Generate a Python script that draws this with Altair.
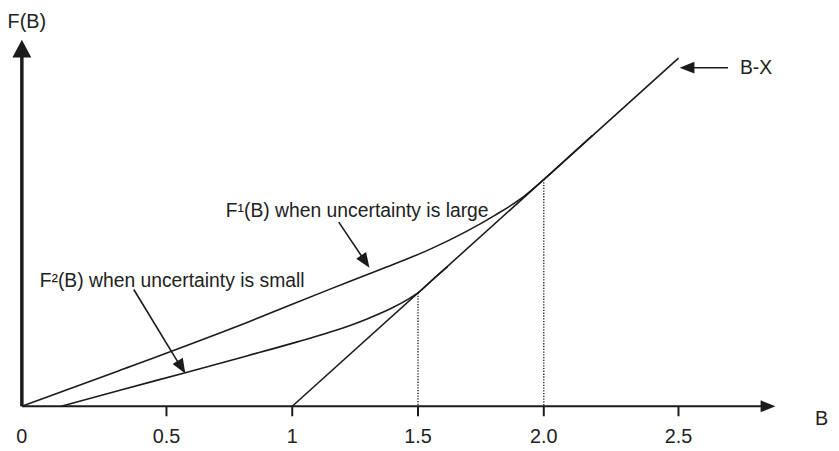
import altair as alt
import pandas as pd

# ---------------- data ----------------
# x-axis tick marks and labels
tick_b = [0.5, 1.0, 1.5, 2.0, 2.5]
label_b = [0.0, 0.5, 1.0, 1.5, 2.0, 2.5]
label_txt = ["0", "0.5", "1", "1.5", "2.0", "2.5"]

# F1(B): uncertainty large
f1_b = [0.0, 0.336, 0.823, 1.138, 1.350, 1.551, 1.689, 1.807, 1.906, 2.0, 2.096, 2.18]
f1_f = [0.0, 0.157, 0.371, 0.511, 0.603, 0.694, 0.769, 0.843, 0.913, 1.0, 1.103, 1.194]

# F2(B): uncertainty small
f2_b = [0.137, 0.336, 0.575, 0.823, 1.020, 1.177, 1.295, 1.394, 1.453, 1.5, 1.559, 1.618]
f2_f = [0.0, 0.070, 0.148, 0.223, 0.284, 0.336, 0.384, 0.432, 0.467, 0.5, 0.559, 0.616]

# B - X line
bx_b = [1.0, 2.5]
bx_f = [0.0, 1.535]

# tangency points (dotted drops)
tan_b = [1.5, 2.0]
tan_f = [0.5, 1.0]

# annotation texts
ann_txt = ["F\u00b9(B) when uncertainty is large", "F\u00b2(B) when uncertainty is small", "B-X"]
ann_b = [0.736, 0.0616, 2.728]
ann_f = [0.834, 0.524, 1.463]

# annotation arrows: shaft start, shaft end, tip
arr_b0 = [1.185, 0.387, 2.684]
arr_f0 = [0.812, 0.515, 1.493]
arr_b1 = [1.28, 0.548, 2.537]
arr_f1 = [0.655, 0.19, 1.493]
arr_tip_b = [1.307, 0.575, 2.504]
arr_tip_f = [0.611, 0.144, 1.493]
arr_angle = [326, 329, 90]

# axes extents
xaxis_end_b = 2.82
xaxis_tip_b = 2.86
yaxis_end_f = 1.555
yaxis_tip_f = 1.616

# ---------------- scales ----------------
xs = alt.Scale(domain=[0.0, 0.5, 2.0, 2.5], range=[14, 160, 541, 677], zero=False, nice=False)
ys = alt.Scale(domain=[0.0, 1.0], range=[400, 171], zero=False, nice=False)

INK = "#1b1b1b"
TXT = "#222222"
FONT = "Liberation Sans"


def X(f):
    return alt.X(f, type="quantitative", scale=xs, axis=None)


def Y(f):
    return alt.Y(f, type="quantitative", scale=ys, axis=None)


curves = pd.DataFrame(
    {"b": f1_b + f2_b, "f": f1_f + f2_f,
     "s": ["F1"] * len(f1_b) + ["F2"] * len(f2_b),
     "o": list(range(len(f1_b))) + list(range(len(f2_b)))}
)
curve_layer = alt.Chart(curves).mark_line(
    interpolate="monotone", color=INK, strokeWidth=1.6
).encode(x=X("b"), y=Y("f"), detail="s:N", order="o:Q")

bx = pd.DataFrame({"b": bx_b, "f": bx_f})
bx_layer = alt.Chart(bx).mark_line(color=INK, strokeWidth=1.6).encode(x=X("b"), y=Y("f"))

# dotted drops
drops = pd.DataFrame({"b": tan_b, "f": tan_f, "z": [0.0, 0.0]})
drop_layer = alt.Chart(drops).mark_rule(
    color=INK, strokeWidth=1.3, strokeDash=[1.3, 1.5]
).encode(x=X("b"), y=Y("f"), y2="z:Q")

# x axis line
xax = pd.DataFrame({"b0": [0.0], "b1": [xaxis_end_b], "f": [0.0]})
xax_layer = alt.Chart(xax).mark_rule(color=INK, strokeWidth=2).encode(
    x=X("b0"), x2="b1:Q", y=Y("f"))

# y axis line
yax = pd.DataFrame({"b": [0.0], "f0": [0.0], "f1": [yaxis_end_f]})
yax_layer = alt.Chart(yax).mark_rule(color=INK, strokeWidth=3.5).encode(
    x=X("b"), y=Y("f0"), y2="f1:Q")

# ticks
ticks = pd.DataFrame({"b": tick_b, "f0": [0.0] * len(tick_b), "f1": [-0.044] * len(tick_b)})
tick_layer = alt.Chart(ticks).mark_rule(color=INK, strokeWidth=2).encode(
    x=X("b"), y=Y("f0"), y2="f1:Q")

# tick labels
labels = pd.DataFrame({"b": label_b, "f": [0.0] * len(label_b), "t": label_txt})
label_layer = alt.Chart(labels).mark_text(
    font=FONT, fontSize=20, color=TXT, align="center", baseline="alphabetic", dy=37
).encode(x=X("b"), y=Y("f"), text="t:N")

# axis titles
titles = pd.DataFrame({"b": [0.017, 3.007], "f": [1.668, -0.083], "t": ["F(B)", "B"]})
title_c = alt.Chart(titles.iloc[[0]]).mark_text(
    font=FONT, fontSize=20, color=TXT, align="center", baseline="alphabetic"
).encode(x=X("b"), y=Y("f"), text="t:N")
title_b = alt.Chart(titles.iloc[[1]]).mark_text(
    font=FONT, fontSize=20, color=TXT, align="left", baseline="alphabetic"
).encode(x=X("b"), y=Y("f"), text="t:N")

# annotation text
ann = pd.DataFrame({"b": ann_b, "f": ann_f, "t": ann_txt})
ann_layer = alt.Chart(ann).mark_text(
    font=FONT, fontSize=19.5, color=TXT, align="left", baseline="alphabetic"
).encode(x=X("b"), y=Y("f"), text="t:N")

# annotation arrow shafts
shafts = pd.DataFrame({"b0": arr_b0, "f0": arr_f0, "b1": arr_b1, "f1": arr_f1})
shaft_layer = alt.Chart(shafts).mark_rule(color=INK, strokeWidth=1.6).encode(
    x=X("b0"), x2="b1:Q", y=Y("f0"), y2="f1:Q")

# arrow heads (tip at the symbol origin, pointing down before rotation)
HEAD = "M0,0L-0.4,-1L0.4,-1Z"
heads = []
for b, f, a in zip(arr_tip_b, arr_tip_f, arr_angle):
    d = pd.DataFrame({"b": [b], "f": [f]})
    heads.append(alt.Chart(d).mark_point(
        shape=HEAD, size=900, angle=a, filled=True, fill=INK, strokeWidth=0, opacity=1
    ).encode(x=X("b"), y=Y("f")))

xhead = alt.Chart(pd.DataFrame({"b": [xaxis_tip_b], "f": [0.0]})).mark_point(
    shape=HEAD, size=900, angle=270, filled=True, fill=INK, strokeWidth=0, opacity=1
).encode(x=X("b"), y=Y("f"))

yhead = alt.Chart(pd.DataFrame({"b": [0.0], "f": [yaxis_tip_f]})).mark_point(
    shape="M0,0L-0.53,-1L0.53,-1Z", size=1296, angle=180, filled=True, fill=INK,
    strokeWidth=0, opacity=1
).encode(x=X("b"), y=Y("f"))

chart = alt.layer(
    drop_layer, xax_layer, yax_layer, tick_layer, bx_layer, curve_layer,
    shaft_layer, *heads, xhead, yhead, label_layer, title_c, title_b, ann_layer
).properties(
    width=831, height=443, padding=0,
    autosize=alt.AutoSizeParams(type="none"),
    background="white",
).configure_view(stroke=None)

chart.save("out.html", embed_options={"renderer": "svg", "actions": False})
